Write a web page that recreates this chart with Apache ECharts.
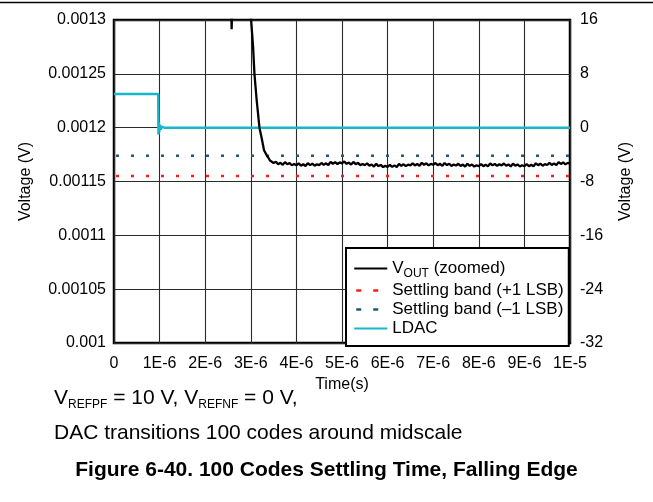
<!DOCTYPE html>
<html>
<head>
<meta charset="utf-8">
<script src="https://cdn.jsdelivr.net/npm/echarts@6/dist/echarts.min.js"></script>
<style>
html,body{margin:0;padding:0;background:#fff;}
#c{width:653px;height:502px;}
</style>
</head>
<body>
<div id="c"></div>
<script>
// ---------------- data ----------------
var xTickLabels = ['0','1E-6','2E-6','3E-6','4E-6','5E-6','6E-6','7E-6','8E-6','9E-6','1E-5'];

// VOUT (zoomed): time in microseconds, voltage in micro-volts (x1e-6 V)
var voutT = [0, 1.0, 2.0, 2.55, 2.58, 2.61, 2.9, 3.00, 3.05, 3.08, 3.13, 3.19, 3.24, 3.29, 3.34, 3.38, 3.42, 3.46, 3.50,
  3.55,3.60,3.65,3.70,3.75,3.80,3.85,3.90,3.95,4.00,
  4.05,4.10,4.15,4.20,4.25,4.30,4.35,4.40,4.45,4.50,
  4.55,4.60,4.65,4.70,4.75,4.80,4.85,4.90,4.95,5.00,
  5.05,5.10,5.15,5.20,5.25,5.30,5.35,5.40,5.45,5.50,
  5.55,5.60,5.65,5.70,5.75,5.80,5.85,5.90,5.95,6.00,
  6.05,6.10,6.15,6.20,6.25,6.30,6.35,6.40,6.45,6.50,
  6.55,6.60,6.65,6.70,6.75,6.80,6.85,6.90,6.95,7.00,
  7.05,7.10,7.15,7.20,7.25,7.30,7.35,7.40,7.45,7.50,
  7.55,7.60,7.65,7.70,7.75,7.80,7.85,7.90,7.95,8.00,
  8.05,8.10,8.15,8.20,8.25,8.30,8.35,8.40,8.45,8.50,
  8.55,8.60,8.65,8.70,8.75,8.80,8.85,8.90,8.95,9.00,
  9.05,9.10,9.15,9.20,9.25,9.30,9.35,9.40,9.45,9.50,
  9.55,9.60,9.65,9.70,9.75,9.80,9.85,9.90,9.95,10.00];
var voutUV = [1360, 1360, 1360, 1350, 1291.5, 1350, 1360, 1304, 1275, 1250, 1225, 1200, 1190, 1179, 1175, 1172.5, 1169.5, 1167.8, 1167.2,
  1168.3,1166.1,1167.3,1165.5,1168.0,1166.0,1167.1,1165.1,1166.2,1165.0,
  1166.8,1164.7,1166.0,1164.4,1167.1,1165.2,1166.5,1164.7,1166.0,1165.2,
  1167.2,1165.4,1166.9,1165.3,1168.2,1166.5,1168.0,1166.2,1167.7,1166.9,
  1168.6,1166.4,1167.6,1165.7,1168.2,1166.1,1167.3,1165.2,1166.3,1165.2,
  1166.8,1164.7,1165.8,1163.9,1166.4,1164.3,1165.4,1163.4,1164.5,1163.5,
  1165.4,1163.6,1165.0,1163.5,1166.3,1164.6,1166.0,1164.3,1165.7,1165.0,
  1166.9,1164.9,1166.3,1164.6,1167.4,1165.5,1166.9,1165.0,1166.4,1165.5,
  1167.2,1165.1,1166.4,1164.6,1167.2,1165.3,1166.5,1164.5,1165.7,1164.8,
  1166.5,1164.4,1165.7,1163.9,1166.5,1164.6,1165.8,1163.8,1165.1,1164.2,
  1166.1,1164.2,1165.6,1164.0,1166.8,1165.0,1166.4,1164.6,1166.0,1165.0,
  1166.7,1164.6,1165.8,1164.0,1166.6,1164.7,1165.9,1163.9,1165.1,1164.2,
  1166.1,1164.2,1165.6,1164.1,1166.9,1165.1,1166.5,1164.7,1166.1,1165.3,
  1167.3,1165.4,1166.8,1165.2,1168.0,1166.3,1167.7,1165.9,1167.3,1166.5];

// Settling bands (V)
var bandPlusV = 0.0011552;
var bandMinusV = 0.0011740;
var bandT = [0, 10];

// LDAC (right axis, V)
var ldacT = [0, 0.97, 0.975, 0.985, 0.995, 1.01, 1.025, 1.045, 1.07, 1.10, 10];
var ldacV = [5, 5, -1.0, 0.8, -0.6, 0.4, -0.3, 0.15, -0.08, 0, 0];

var seriesNames = ['VOUT (zoomed)', 'Settling band (+1 LSB)', 'Settling band (\u20131 LSB)', 'LDAC'];

// ---------------- build ----------------
function zip(a, b, k) { var r = []; for (var i = 0; i < a.length; i++) r.push([a[i], b[i] * k]); return r; }
var voutData = zip(voutT, voutUV, 1e-6);
var bandPlusData = bandT.map(function (t) { return [t, bandPlusV]; });
var bandMinusData = bandT.map(function (t) { return [t, bandMinusV]; });
var ldacData = zip(ldacT, ldacV, 1);

var FONT = 'Liberation Sans, Arial, Helvetica, sans-serif';
var chart = echarts.init(document.getElementById('c'), null, { renderer: 'canvas' });

chart.setOption({
  animation: false,
  backgroundColor: '#fff',
  textStyle: { fontFamily: FONT },
  grid: { left: 114, right: 83, top: 20, bottom: 159, show: true, borderColor: '#000', borderWidth: 2.5, backgroundColor: 'transparent', containLabel: false },
  xAxis: {
    type: 'value', min: 0, max: 10, interval: 1,
    name: 'Time(s)', nameLocation: 'middle', nameGap: 34,
    nameTextStyle: { color: '#000', fontSize: 16, fontFamily: FONT },
    axisLine: { show: false }, axisTick: { show: false },
    axisLabel: { color: '#000', fontSize: 16, fontFamily: FONT, margin: 13,
      formatter: function (v) { return xTickLabels[Math.round(v)]; } },
    splitLine: { show: true, lineStyle: { color: '#2a2a2a', width: 1.1 } }
  },
  yAxis: [{
    type: 'value', min: 0.001, max: 0.0013, interval: 0.00005,
    name: 'Voltage (V)', nameLocation: 'middle', nameGap: 80,
    nameTextStyle: { color: '#000', fontSize: 16, fontFamily: FONT },
    axisLine: { show: false }, axisTick: { show: false },
    axisLabel: { color: '#000', fontSize: 16, fontFamily: FONT, margin: 8,
      formatter: function (v) { return String(+v.toFixed(5)); } },
    splitLine: { show: true, lineStyle: { color: '#2a2a2a', width: 1.1 } }
  }, {
    type: 'value', min: -32, max: 16, interval: 8, position: 'right',
    name: 'Voltage (V)', nameLocation: 'middle', nameGap: 48,
    nameTextStyle: { color: '#000', fontSize: 16, fontFamily: FONT },
    axisLine: { show: false }, axisTick: { show: false },
    axisLabel: { color: '#000', fontSize: 16, fontFamily: FONT, margin: 10 },
    splitLine: { show: false }
  }],
  legend: {
    orient: 'vertical', left: 346, top: 248,
    padding: [12, 5, 9, 7], itemGap: 2, itemWidth: 33, itemHeight: 14, itemTextGap: 9,
    backgroundColor: '#fff', borderColor: '#000', borderWidth: 2,
    itemStyle: { opacity: 0 },
    textStyle: { color: '#000', fontSize: 17, fontFamily: FONT,
      rich: {
        n: { fontSize: 17, lineHeight: 17, verticalAlign: 'top', fontFamily: FONT, color: '#000' },
        s: { fontSize: 12, lineHeight: 9, padding: [8, 0, 0, 0], verticalAlign: 'top', fontFamily: FONT, color: '#000' }
      } },
    formatter: function (name) {
      if (name === seriesNames[0]) return '{n|V}{s|OUT}{n| (zoomed)}';
      return '{n|' + name + '}';
    },
    data: [
      { name: seriesNames[0] },
      { name: seriesNames[1], lineStyle: { type: [5, 12], width: 2.5 } },
      { name: seriesNames[2], lineStyle: { type: [5, 12], width: 2.5 } },
      { name: seriesNames[3] }
    ]
  },
  series: [
    { name: seriesNames[3], type: 'line', yAxisIndex: 1, data: ldacData, showSymbol: false, symbol: 'none',
      lineStyle: { color: '#16b7cb', width: 2.5 }, itemStyle: { color: '#16b7cb' }, z: 3 },
    { name: seriesNames[1], type: 'line', data: bandPlusData, showSymbol: false, symbol: 'none',
      lineStyle: { color: '#ff1a1a', width: 2.5, type: [3, 12], dashOffset: -2 }, itemStyle: { color: '#ff1a1a' }, z: 2 },
    { name: seriesNames[2], type: 'line', data: bandMinusData, showSymbol: false, symbol: 'none',
      lineStyle: { color: '#1f5a70', width: 2.5, type: [3, 12], dashOffset: -2 }, itemStyle: { color: '#1f5a70' }, z: 2 },
    { name: seriesNames[0], type: 'line', data: voutData, showSymbol: false, symbol: 'none', clip: true,
      lineStyle: { color: '#000', width: 2.3 }, itemStyle: { color: '#000' }, z: 4 }
  ],
  graphic: [
    { type: 'line', shape: { x1: 0, y1: 2.5, x2: 653, y2: 2.5 }, style: { stroke: '#000', lineWidth: 1.5 }, silent: true },
    { type: 'text', left: 54, top: 388, style: { text: '{v|V}{s|REFPF}{v| = 10 V, V}{s|REFNF}{v| = 0 V,}',
        rich: { v: { fontSize: 21, lineHeight: 22, verticalAlign: 'top', fontFamily: FONT, fill: '#000' },
                s: { fontSize: 12, lineHeight: 10, padding: [11, 0, 0, 0], verticalAlign: 'top', fontFamily: FONT, fill: '#000' } } } },
    { type: 'text', left: 54, top: 423, style: { text: 'DAC transitions 100 codes around midscale', font: '21px ' + FONT, fill: '#000' } },
    { type: 'text', left: 'center', top: 460, style: { text: 'Figure 6-40. 100 Codes Settling Time, Falling Edge', font: 'bold 21px ' + FONT, fill: '#000' } }
  ]
});
</script>
</body>
</html>
